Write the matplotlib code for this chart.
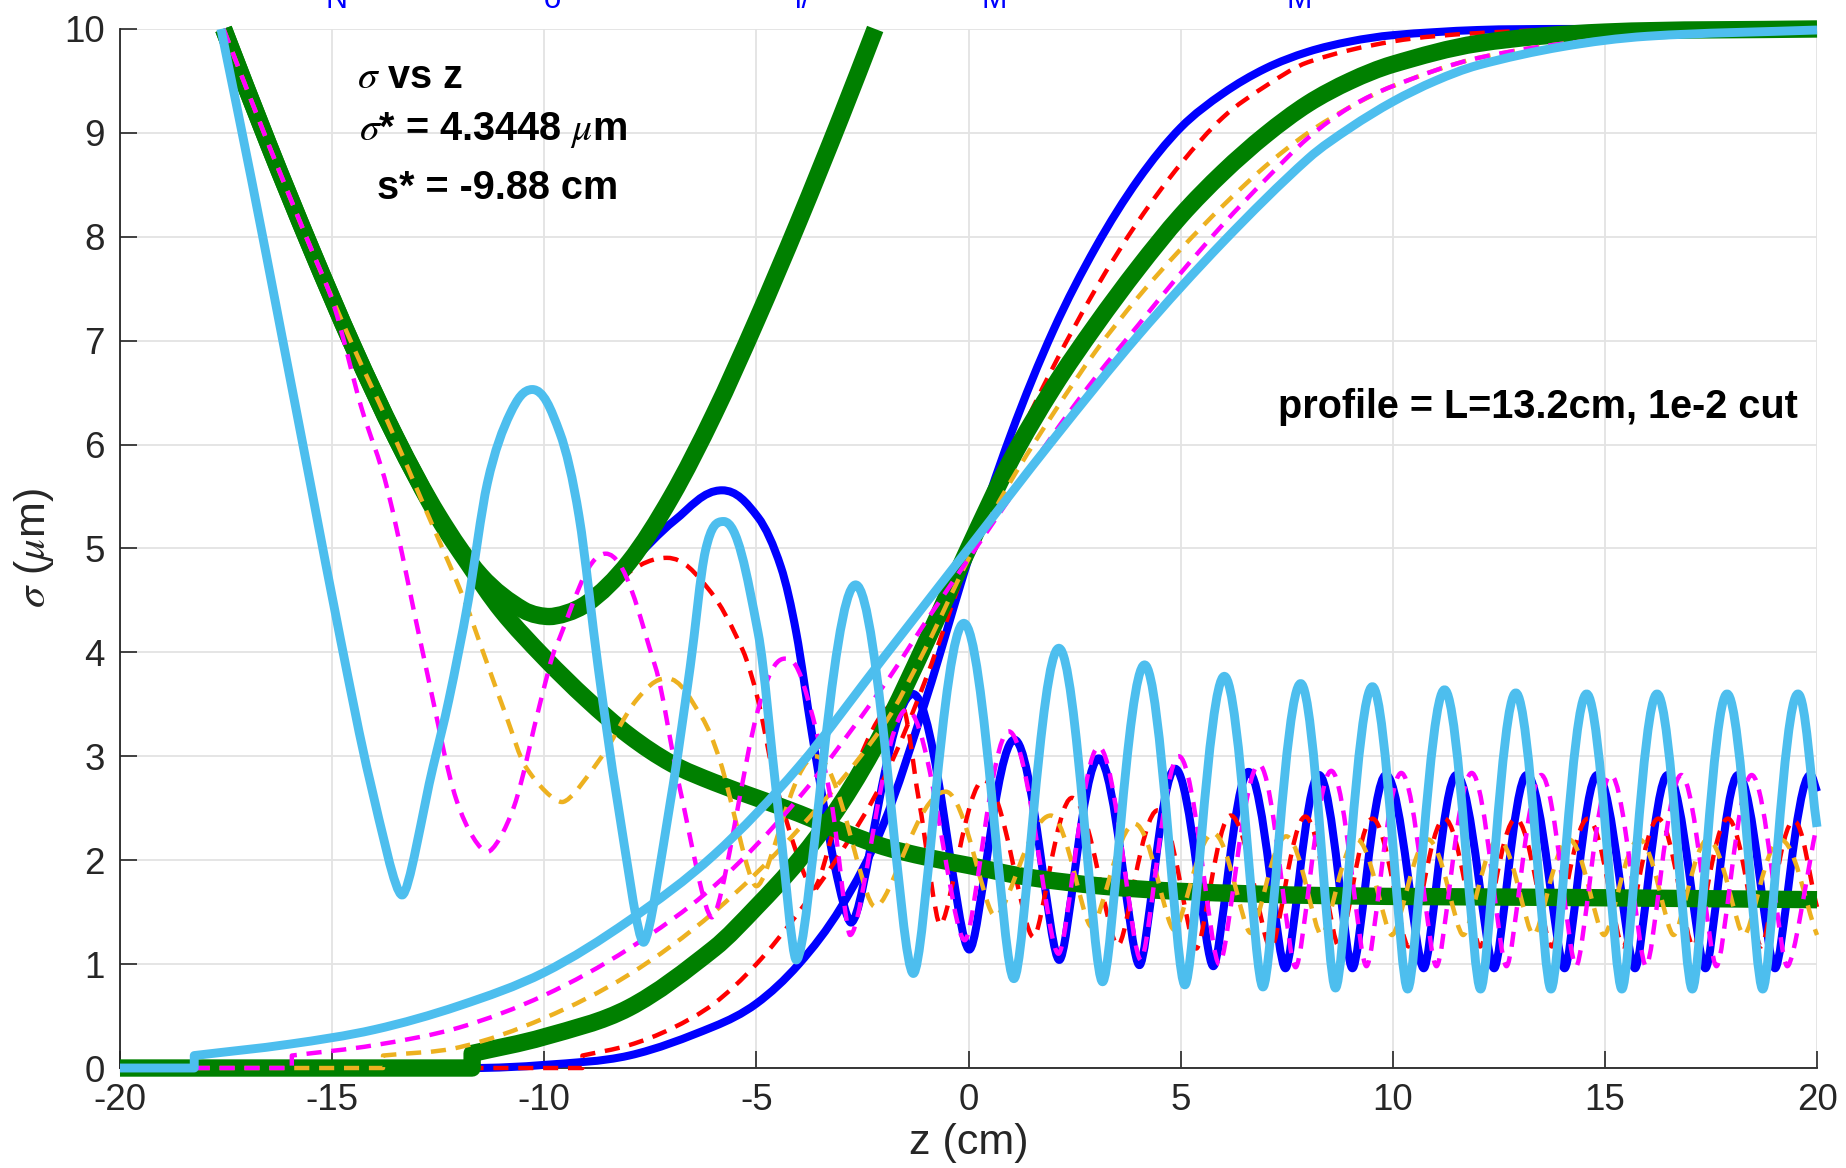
import matplotlib
matplotlib.use("Agg")
import matplotlib.pyplot as plt
from matplotlib.path import Path
from matplotlib.patches import PathPatch

# vacuum envelope (thick green parabola-like curve)
hyp_z = [-17.56, -16.5, -15.5, -14.5, -13.5, -12.5, -11.5, -10.5, -9.88, -9.0, -8.0, -7.0, -6.0, -5.0, -4.0, -3.0, -2.2]
hyp_s = [10.0, 8.89, 7.89, 6.94, 6.07, 5.32, 4.74, 4.41, 4.345, 4.47, 4.87, 5.50, 6.29, 7.19, 8.15, 9.16, 10.0]

# matched size (thick green decreasing curve)
eq_z = [-17.56, -16.5, -15.5, -14.5, -13.5, -12.5, -11.8, -11.0, -10.0, -9.0, -8.0, -7.0, -6.0, -5.0, -4.0, -3.0, -2.0, -1.0, 0.0, 1.35, 3.16, 5.0, 8.3, 14.5, 20.0]
eq_s = [10.0, 8.89, 7.89, 6.94, 6.07, 5.30, 4.86, 4.40, 3.95, 3.55, 3.20, 2.93, 2.75, 2.60, 2.45, 2.28, 2.13, 2.03, 1.95, 1.84, 1.75, 1.70, 1.66, 1.64, 1.62]

# sigma(z) for each profile
blue_osc_z = [-17.56, -16.5, -15.5, -14.5, -13.5, -12.5, -11.5, -10.5, -9.88, -9.0, -8.0, -6.93, -5.81, -4.96, -4.42, -4.06, -3.69, -3.15, -2.77, -1.31, 0.02, 1.08, 2.14, 3.07, 4.03, 4.87, 5.77, 6.60, 7.47, 8.26, 9.05, 9.84, 10.73, 11.50, 12.39, 13.16, 14.05, 14.82, 15.71, 16.48, 17.37, 18.14, 19.01, 19.84, 20.0]
blue_osc_s = [10.0, 8.89, 7.89, 6.94, 6.07, 5.32, 4.74, 4.41, 4.345, 4.47, 4.85, 5.27, 5.56, 5.30, 4.82, 4.19, 3.22, 1.94, 1.40, 3.60, 1.14, 3.16, 1.04, 2.98, 0.99, 2.88, 0.98, 2.85, 0.96, 2.82, 0.96, 2.82, 0.96, 2.82, 0.96, 2.82, 0.96, 2.82, 0.96, 2.82, 0.96, 2.82, 0.96, 2.82, 2.66]

red_osc_z = [-17.56, -16.5, -15.5, -14.5, -13.5, -12.5, -11.5, -10.5, -9.88, -8.73, -7.11, -6.11, -5.32, -4.96, -4.51, -3.65, -2.88, -1.62, -1.17, -0.67, 0.36, 1.53, 2.44, 3.52, 4.46, 5.37, 6.18, 7.13, 7.94, 8.73, 9.52, 10.37, 11.22, 12.06, 12.90, 13.75, 14.60, 15.43, 16.26, 17.08, 17.90, 18.68, 19.45, 20.0]
red_osc_s = [10.0, 8.89, 7.89, 6.94, 6.07, 5.32, 4.74, 4.41, 4.30, 4.57, 4.91, 4.60, 4.02, 3.54, 2.68, 1.73, 2.68, 3.52, 2.58, 1.38, 2.77, 1.26, 2.60, 1.18, 2.48, 1.15, 2.43, 1.15, 2.42, 1.17, 2.40, 1.17, 2.40, 1.17, 2.40, 1.17, 2.40, 1.17, 2.40, 1.17, 2.40, 1.17, 2.38, 1.55]

orange_osc_z = [-17.56, -16.5, -15.5, -14.5, -13.69, -12.79, -11.88, -11.43, -10.89, -10.44, -9.58, -8.64, -7.83, -7.11, -6.29, -5.86, -5.0, -3.6, -2.2, -0.54, 0.63, 1.94, 2.9, 3.92, 4.85, 5.77, 6.65, 7.49, 8.32, 9.15, 9.98, 10.83, 11.66, 12.49, 13.32, 14.15, 14.98, 15.81, 16.62, 17.43, 18.28, 19.13, 20.0]
orange_osc_s = [10.0, 8.89, 7.89, 6.94, 6.22, 5.37, 4.50, 3.99, 3.38, 2.90, 2.56, 3.00, 3.54, 3.75, 3.38, 2.96, 1.75, 3.00, 1.55, 2.66, 1.46, 2.43, 1.36, 2.35, 1.33, 2.26, 1.30, 2.23, 1.28, 2.20, 1.28, 2.20, 1.28, 2.20, 1.28, 2.20, 1.28, 2.20, 1.28, 2.20, 1.28, 2.20, 1.28]

magenta_osc_z = [-17.56, -16.5, -15.5, -14.95, -14.32, -13.69, -12.79, -12.07, -11.34, -10.71, -10.08, -9.72, -8.55, -7.38, -6.83, -6.05, -4.96, -4.33, -3.92, -3.24, -2.79, -1.45, -0.09, 0.95, 2.12, 3.07, 4.06, 4.96, 5.91, 6.85, 7.71, 8.55, 9.38, 10.20, 11.03, 11.86, 12.68, 13.50, 14.32, 15.14, 15.97, 16.80, 17.63, 18.46, 19.30, 20.0]
magenta_osc_s = [10.0, 8.89, 7.89, 7.33, 6.37, 5.56, 3.86, 2.58, 2.08, 2.52, 3.54, 4.06, 4.95, 3.86, 2.74, 1.45, 3.45, 3.94, 3.73, 2.58, 1.28, 3.45, 1.23, 3.24, 1.10, 3.09, 1.04, 3.00, 1.00, 2.92, 0.97, 2.86, 0.98, 2.84, 0.98, 2.84, 0.98, 2.82, 0.98, 2.82, 0.98, 2.82, 0.98, 2.82, 0.98, 2.35]

ltblue_osc_z = [-17.62, -16.9, -16.2, -15.5, -14.8, -14.1, -13.35, -12.62, -12.25, -11.79, -11.34, -10.8, -10.28, -9.63, -9.18, -8.73, -8.28, -7.66, -7.02, -6.56, -6.2, -5.77, -4.96, -4.51, -4.06, -2.66, -1.30, -0.11, 1.07, 2.13, 3.16, 4.15, 5.10, 6.03, 6.94, 7.83, 8.65, 9.52, 10.35, 11.22, 12.07, 12.90, 13.73, 14.57, 15.40, 16.23, 17.06, 17.88, 18.72, 19.55, 20.0]
ltblue_osc_s = [10.0, 8.55, 7.08, 5.6, 4.12, 2.75, 1.665, 2.9, 3.54, 4.5, 5.63, 6.3, 6.53, 6.11, 5.31, 3.86, 2.58, 1.21, 2.58, 3.86, 4.98, 5.26, 4.19, 2.58, 1.04, 4.65, 0.91, 4.28, 0.86, 4.04, 0.83, 3.88, 0.80, 3.77, 0.78, 3.70, 0.77, 3.67, 0.76, 3.64, 0.76, 3.61, 0.76, 3.60, 0.76, 3.60, 0.76, 3.60, 0.76, 3.60, 2.32]

# density profiles (scaled to 10), flat at 0 up to the cut
blue_prof_z = [-20, -11.7, -10, -8, -6, -5, -4, -3, -2, -1, 0, 1, 2, 3, 4, 5, 6, 7, 8, 9, 10, 12, 14, 20]
blue_prof_s = [0, 0, 0.03, 0.12, 0.40, 0.62, 1.0, 1.55, 2.35, 3.55, 4.9, 6.1, 7.1, 7.9, 8.55, 9.05, 9.38, 9.62, 9.78, 9.88, 9.94, 9.99, 10.0, 10.0]
red_prof_z = [-20, -9.1, -9.1, -8, -7, -6, -5, -4, -3, -2, -1, 0, 1, 2, 3, 4, 5, 6, 7, 8, 10, 12, 15, 20]
red_prof_s = [0, 0, 0.12, 0.22, 0.38, 0.62, 1.0, 1.5, 2.08, 2.78, 3.75, 4.9, 5.9, 6.75, 7.5, 8.15, 8.7, 9.15, 9.45, 9.68, 9.88, 9.96, 10.0, 10.0]
green_prof_z = [-20, -11.7, -11.7, -10, -8, -6, -5, -4, -3, -2, -1, 0, 1, 2, 3, 4, 5, 6, 7, 8, 9, 10, 12, 15, 20]
green_prof_s = [0, 0, 0.14, 0.3, 0.58, 1.15, 1.55, 2.0, 2.55, 3.25, 4.1, 5.0, 5.85, 6.55, 7.15, 7.7, 8.2, 8.62, 8.98, 9.28, 9.5, 9.66, 9.86, 9.97, 10.0]
orange_prof_z = [-20, -13.8, -13.8, -12, -10, -8, -6, -4, -2, -1, 0, 1, 2, 3, 4, 5, 6, 7, 8, 9, 10, 12, 15, 20]
orange_prof_s = [0, 0, 0.12, 0.2, 0.48, 0.9, 1.5, 2.3, 3.3, 4.05, 4.9, 5.65, 6.3, 6.9, 7.42, 7.88, 8.3, 8.68, 9.0, 9.25, 9.45, 9.72, 9.9, 10.0]
magenta_prof_z = [-20, -15.95, -15.95, -14, -12, -10, -8, -6, -4, -2, -1, 0, 1, 2, 3, 4, 5, 6, 7, 8, 9, 10, 12, 15, 20]
magenta_prof_s = [0, 0, 0.12, 0.22, 0.39, 0.7, 1.15, 1.75, 2.6, 3.68, 4.3, 4.9, 5.5, 6.1, 6.65, 7.15, 7.65, 8.12, 8.55, 8.95, 9.25, 9.45, 9.72, 9.9, 10.0]
ltblue_prof_z = [-20, -18.25, -18.25, -16, -14, -12, -10, -8, -6, -4, -2, 0, 2, 4, 6, 8, 9, 10, 11, 12, 14, 16, 20]
ltblue_prof_s = [0, 0, 0.12, 0.23, 0.37, 0.6, 0.92, 1.42, 2.05, 2.9, 3.95, 5.0, 6.05, 7.05, 7.95, 8.75, 9.05, 9.3, 9.5, 9.65, 9.83, 9.93, 9.99]

top_labels = ["N", "σ", "l/", "M", "M"]
top_label_z = [-14.9, -9.8, -3.9, 0.6, 7.8]

C_BLUE, C_RED, C_GREEN = "#0000FF", "#FF0000", "#008000"
C_ORANGE, C_MAGENTA, C_LTBLUE = "#EDB120", "#FF00FF", "#4DBEEE"


def smooth_path(zs, ss, peak_k=0.40, trough_k=0.22):
    """cubic bezier path through the read points, flat tangents at extrema"""
    n = len(zs)
    slopes, kinds = [], []
    for i in range(n):
        kd = "n"
        if i == 0:
            m = (ss[1] - ss[0]) / (zs[1] - zs[0]) if zs[1] != zs[0] else 0.0
        elif i == n - 1:
            m = (ss[-1] - ss[-2]) / (zs[-1] - zs[-2]) if zs[-1] != zs[-2] else 0.0
        elif zs[i] == zs[i - 1]:
            m = (ss[i + 1] - ss[i]) / (zs[i + 1] - zs[i])
        elif zs[i] == zs[i + 1] or ss[i] == ss[i - 1] == 0:
            m = 0.0
        else:
            d0, d1 = ss[i] - ss[i - 1], ss[i + 1] - ss[i]
            if d0 * d1 < 0:
                m = 0.0
                kd = "p" if d0 > 0 else "t"
            else:
                m = (ss[i + 1] - ss[i - 1]) / (zs[i + 1] - zs[i - 1])
        slopes.append(m)
        kinds.append(kd)
    frac = {"n": 1 / 3, "p": peak_k, "t": trough_k}
    verts, codes = [(zs[0], ss[0])], [Path.MOVETO]
    for i in range(n - 1):
        dz = zs[i + 1] - zs[i]
        if dz == 0 or ss[i] == ss[i + 1]:
            verts.append((zs[i + 1], ss[i + 1]))
            codes.append(Path.LINETO)
            continue
        a, b = frac[kinds[i]] * dz, frac[kinds[i + 1]] * dz
        verts += [(zs[i] + a, ss[i] + slopes[i] * a),
                  (zs[i + 1] - b, ss[i + 1] - slopes[i + 1] * b),
                  (zs[i + 1], ss[i + 1])]
        codes += [Path.CURVE4] * 3
    return Path(verts, codes)


def draw(ax, zs, ss, color, lw, dashed=False, z=3):
    ls = (0, (3.4, 2.2)) if dashed else "-"
    ax.add_patch(PathPatch(smooth_path(zs, ss), facecolor="none", edgecolor=color,
                           lw=lw, linestyle=ls, joinstyle="round",
                           capstyle="butt", clip_on=False, zorder=z))


plt.rcParams.update({
    "font.family": ["Liberation Sans", "DejaVu Sans"],
    "mathtext.fontset": "stix",
    "axes.unicode_minus": False,
})

fig = plt.figure(figsize=(18.46, 11.68), dpi=100)
ax = fig.add_axes([0.065, 0.0856, 0.9193, 0.8896])

# drawing order: blue, red, green, orange, magenta, light blue
draw(ax, blue_prof_z, blue_prof_s, C_BLUE, 5.8, z=3.0)
draw(ax, blue_osc_z, blue_osc_s, C_BLUE, 5.8, z=3.1)
draw(ax, red_prof_z, red_prof_s, C_RED, 3.2, dashed=True, z=3.2)
draw(ax, red_osc_z, red_osc_s, C_RED, 3.2, dashed=True, z=3.3)
draw(ax, green_prof_z, green_prof_s, C_GREEN, 12.5, z=3.4)
draw(ax, hyp_z, hyp_s, C_GREEN, 12.5, z=3.5)
draw(ax, eq_z, eq_s, C_GREEN, 12.5, z=3.6)
draw(ax, orange_prof_z, orange_prof_s, C_ORANGE, 3.2, dashed=True, z=3.7)
draw(ax, orange_osc_z, orange_osc_s, C_ORANGE, 3.2, dashed=True, z=3.8)
draw(ax, magenta_prof_z, magenta_prof_s, C_MAGENTA, 3.2, dashed=True, z=3.9)
draw(ax, magenta_osc_z, magenta_osc_s, C_MAGENTA, 3.2, dashed=True, z=4.0)
draw(ax, ltblue_prof_z, ltblue_prof_s, C_LTBLUE, 6.4, z=4.1)
draw(ax, ltblue_osc_z, ltblue_osc_s, C_LTBLUE, 6.4, z=4.2)

ax.set_xlim(-20, 20)
ax.set_ylim(0, 10)
ax.set_xticks(range(-20, 21, 5))
ax.set_yticks(range(0, 11))
ax.grid(True, color="#e3e3e3", lw=1.3)
ax.set_axisbelow(True)
for side in ["top", "right"]:
    ax.spines[side].set_visible(False)
for side in ["left", "bottom"]:
    ax.spines[side].set_color("#262626")
    ax.spines[side].set_linewidth(1.3)
    ax.spines[side].set_zorder(2)
ax.tick_params(direction="in", length=12.5, width=1.2, colors="#262626",
               labelsize=26.5, pad=11)

ax.set_xlabel("z (cm)", fontsize=31, color="#262626")
ax.xaxis.set_label_coords(0.5, -0.053)
ax.set_ylabel(r"$\sigma$ ($\mu$m)", fontsize=31, color="#262626")
ax.yaxis.set_label_coords(-0.038, 0.5)

ax.text(-14.41, 9.54, r"$\sigma$ vs z", fontsize=28.5, fontweight="bold", va="center")
ax.text(-14.36, 9.03, r"$\sigma$* = 4.3448 $\mu$m", fontsize=28.5, fontweight="bold", va="center")
ax.text(-13.94, 8.47, "s* = -9.88 cm", fontsize=28.5, fontweight="bold", va="center")
ax.text(19.56, 6.36, "profile = L=13.2cm, 1e-2 cut", fontsize=28.5, fontweight="bold",
        va="center", ha="right")

for lab, zz in zip(top_labels, top_label_z):
    ax.text(zz, 10.2, lab, color="#0000FF", fontsize=22, ha="center",
            va="baseline", clip_on=False)

fig.savefig("out.png", dpi=100)
